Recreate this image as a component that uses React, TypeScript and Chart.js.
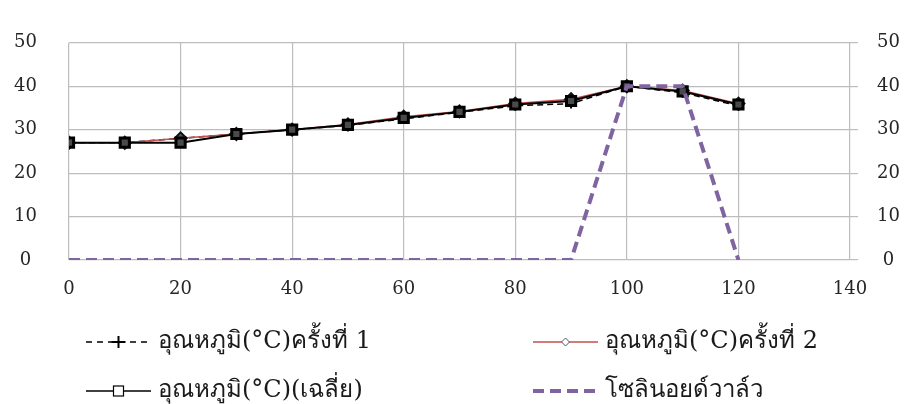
import React, { useEffect, useRef } from "react";
import { Chart, registerables } from "chart.js";

Chart.register(...registerables);

const xValues = [0, 10, 20, 30, 40, 50, 60, 70, 80, 90, 100, 110, 120];
const temp1 = [27, 27, 28, 29, 30, 31, 32.5, 34, 35.5, 36, 40, 38.5, 35.5];
const temp2 = [27, 27, 28, 29, 30, 31.2, 33, 34.2, 36, 37, 40, 39, 36];
const tempAvg = [27, 27, 27, 29, 30, 31.1, 32.7, 34.1, 35.8, 36.6, 40, 38.8, 35.8];
const solenoid = [0, 0, 0, 0, 0, 0, 0, 0, 0, 0, 40, 40, 0];

const seriesNames = [
  "อุณหภูมิ(°C)ครั้งที่ 1",
  "อุณหภูมิ(°C)ครั้งที่ 2",
  "อุณหภูมิ(°C)(เฉลี่ย)",
  "โซลินอยด์วาล์ว",
];

const FONT_FAMILY = "'DejaVu Serif', 'Liberation Serif', serif";
const GRID = "#bdbdbd";
const RED = "#C0504D";
const PURPLE = "#8064A2";
const TICK_COLOR = "#262626";

const toPoints = (ys: number[]) => ys.map((y, i) => ({ x: xValues[i], y }));

const legendPlugin = {
  id: "customLegend",
  afterDraw(chart: any) {
    const ctx = chart.ctx as CanvasRenderingContext2D;
    ctx.save();
    const rows = [342, 391];
    const cols = [86, 533];
    const items = [
      { idx: 0, col: 0, row: 0 },
      { idx: 1, col: 1, row: 0 },
      { idx: 2, col: 0, row: 1 },
      { idx: 3, col: 1, row: 1 },
    ];
    items.forEach(({ idx, col, row }) => {
      const x0 = cols[col];
      const y = rows[row];
      const x1 = x0 + 65;
      const mid = (x0 + x1) / 2;
      ctx.save();
      ctx.beginPath();
      if (idx === 0) {
        ctx.strokeStyle = "#000";
        ctx.lineWidth = 1.5;
        ctx.setLineDash([6, 5]);
        ctx.moveTo(x0, y);
        ctx.lineTo(x1, y);
        ctx.stroke();
        ctx.setLineDash([]);
        ctx.beginPath();
        ctx.lineWidth = 2;
        ctx.moveTo(mid - 7, y);
        ctx.lineTo(mid + 7, y);
        ctx.moveTo(mid, y - 6);
        ctx.lineTo(mid, y + 6);
        ctx.stroke();
      } else if (idx === 1) {
        ctx.strokeStyle = RED;
        ctx.lineWidth = 1.5;
        ctx.moveTo(x0, y);
        ctx.lineTo(x1, y);
        ctx.stroke();
        ctx.beginPath();
        ctx.fillStyle = "#fff";
        ctx.strokeStyle = "#555";
        ctx.lineWidth = 1;
        ctx.moveTo(mid, y - 4);
        ctx.lineTo(mid + 4, y);
        ctx.lineTo(mid, y + 4);
        ctx.lineTo(mid - 4, y);
        ctx.closePath();
        ctx.fill();
        ctx.stroke();
      } else if (idx === 2) {
        ctx.strokeStyle = "#000";
        ctx.lineWidth = 1.5;
        ctx.moveTo(x0, y);
        ctx.lineTo(x1, y);
        ctx.stroke();
        ctx.fillStyle = "#fff";
        ctx.lineWidth = 1.2;
        ctx.fillRect(mid - 5, y - 5, 10, 10);
        ctx.strokeRect(mid - 5, y - 5, 10, 10);
      } else {
        ctx.strokeStyle = PURPLE;
        ctx.lineWidth = 4;
        ctx.setLineDash([11, 6]);
        ctx.moveTo(x0, y);
        ctx.lineTo(x1, y);
        ctx.stroke();
      }
      ctx.restore();
      ctx.fillStyle = "#1a1a1a";
      ctx.font = `24px ${FONT_FAMILY}`;
      ctx.textAlign = "left";
      ctx.textBaseline = "middle";
      ctx.fillText(chart.data.datasets[idx].label, x1 + 7, y);
    });
    ctx.restore();
  },
};

export default function App() {
  const ref = useRef<HTMLCanvasElement | null>(null);

  useEffect(() => {
    document.body.style.margin = "0";
    const canvas = ref.current;
    if (!canvas) return;
    const tickFont = { family: FONT_FAMILY, size: 18 };
    const chart = new Chart(canvas, {
      type: "line",
      data: {
        datasets: [
          {
            label: seriesNames[0],
            data: toPoints(temp1),
            borderColor: "#000",
            borderWidth: 1.5,
            borderDash: [6, 4],
            pointStyle: "cross",
            pointRadius: 5,
            pointBorderWidth: 2,
            pointBorderColor: "#000",
            order: 3,
          },
          {
            label: seriesNames[1],
            data: toPoints(temp2),
            borderColor: RED,
            borderWidth: 1.5,
            pointStyle: "rectRot",
            pointRadius: 6,
            pointBorderWidth: 2,
            pointBorderColor: "#111",
            pointBackgroundColor: "#555",
            order: 2,
          },
          {
            label: seriesNames[2],
            data: toPoints(tempAvg),
            borderColor: "#000",
            borderWidth: 2,
            pointStyle: "rect",
            pointRadius: 6.5,
            pointBorderWidth: 3,
            pointBorderColor: "#000",
            pointBackgroundColor: "#4a4a4a",
            order: 1,
          },
          {
            label: seriesNames[3],
            data: toPoints(solenoid),
            borderColor: PURPLE,
            borderWidth: 4,
            borderDash: [11, 6],
            pointRadius: 0,
            clip: 0 as any,
            order: 0,
          },
        ],
      },
      options: {
        animation: false,
        responsive: false,
        maintainAspectRatio: false,
        layout: { padding: { top: 23, left: 0, right: 0, bottom: 0 } },
        plugins: {
          legend: { display: false },
          tooltip: { enabled: false },
        },
        scales: {
          x: {
            type: "linear",
            min: 0,
            max: 140,
            border: { display: false },
            grid: { color: GRID, lineWidth: 1.2, drawTicks: false },
            ticks: { stepSize: 20, font: tickFont, color: TICK_COLOR, padding: 19 },
            afterFit: (s: any) => {
              s.height = 144;
            },
          },
          y: {
            position: "left",
            min: 0,
            max: 50,
            border: { display: false },
            grid: { color: GRID, lineWidth: 1.2, drawTicks: false },
            ticks: { stepSize: 10, font: tickFont, color: TICK_COLOR, crossAlign: "center", padding: 32 },
            afterFit: (s: any) => {
              s.width = 69;
            },
          },
          y2: {
            position: "right",
            min: 0,
            max: 50,
            border: { display: false },
            grid: { drawOnChartArea: false, color: GRID, lineWidth: 1.2, tickLength: 8 },
            ticks: { stepSize: 10, font: tickFont, color: TICK_COLOR, crossAlign: "center", padding: 19 },
            afterFit: (s: any) => {
              s.width = 62;
            },
          },
        },
      },
      plugins: [legendPlugin],
    });
    return () => chart.destroy();
  }, []);

  return (
    <div style={{ width: 912, height: 404 }}>
      <canvas ref={ref} width={912} height={404} style={{ width: 912, height: 404 }} />
    </div>
  );
}
